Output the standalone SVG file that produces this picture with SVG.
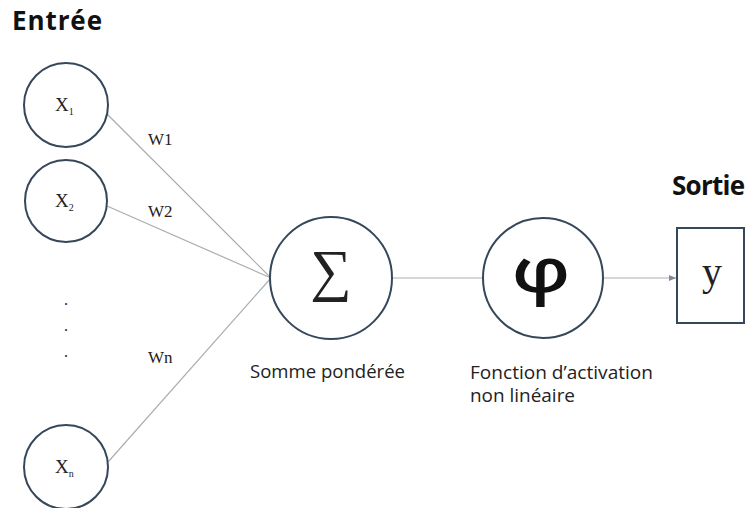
<svg xmlns="http://www.w3.org/2000/svg" width="747" height="508" viewBox="0 0 747 508">
<defs>
<style>
.node{fill:#fff;stroke:#36475a;stroke-width:2}
.conn{stroke:#a9adb2;stroke-width:1.2;fill:none}
.title{font-family:"Open Sans","Liberation Sans",sans-serif;font-weight:bold;font-size:26px;fill:#111}
.cap{font-family:"Open Sans","Liberation Sans",sans-serif;font-size:18px;fill:#222}
.ser{font-family:"Liberation Serif","DejaVu Serif",serif;fill:#222}
</style>
<marker id="ah" markerWidth="8" markerHeight="8" refX="7" refY="4" orient="auto" markerUnits="userSpaceOnUse">
<path d="M0,1 L7,4 L0,7 z" fill="#7d8a98"/>
</marker>
</defs>
<rect width="747" height="508" fill="#fff"/>
<text class="title" x="12" y="30" textLength="90">Entrée</text>
<text class="title" x="672" y="195" textLength="73">Sortie</text>
<g id="connectors">
<line class="conn" x1="106" y1="113" x2="271" y2="278"/>
<line class="conn" x1="107" y1="206" x2="271" y2="278"/>
<line class="conn" x1="108" y1="462" x2="271" y2="278"/>
<line class="conn" x1="392" y1="278" x2="482" y2="278"/>
<line class="conn" x1="604" y1="278" x2="676" y2="278" stroke="#7d8a98" marker-end="url(#ah)"/>
</g>
<g id="labels">
<text class="ser" x="148" y="145" font-size="17">W1</text>
<text class="ser" x="148" y="217" font-size="17">W2</text>
<text class="ser" x="148" y="363" font-size="17">Wn</text>
<text class="ser" x="64" y="305" font-size="16">.</text>
<text class="ser" x="64" y="331" font-size="16">.</text>
<text class="ser" x="64" y="357" font-size="16">.</text>
</g>
<g id="x1">
<circle class="node" cx="66" cy="105" r="42"/>
<text class="ser" x="55" y="111" font-size="19">X<tspan font-size="10" dy="4">1</tspan></text>
</g>
<g id="x2">
<circle class="node" cx="66" cy="201" r="41"/>
<text class="ser" x="55" y="207" font-size="19">X<tspan font-size="10" dy="4">2</tspan></text>
</g>
<g id="xn">
<circle class="node" cx="66" cy="467" r="42"/>
<text class="ser" x="55" y="473" font-size="19">X<tspan font-size="10" dy="4">n</tspan></text>
</g>
<g id="sum">
<circle class="node" cx="331" cy="278" r="61"/>
<text class="ser" x="331" y="290" font-size="58" text-anchor="middle">∑</text>
<text class="cap" x="250" y="378" textLength="155" lengthAdjust="spacingAndGlyphs">Somme pondérée</text>
</g>
<g id="phi">
<circle class="node" cx="543" cy="278" r="60"/>
<text transform="translate(541,292) scale(1.25,1)" x="0" y="0" font-family="'Open Sans','DejaVu Sans',sans-serif" font-weight="600" font-size="62" text-anchor="middle" fill="#111">φ</text>
<text class="cap" x="470" y="379" textLength="183" lengthAdjust="spacingAndGlyphs">Fonction d’activation</text>
<text class="cap" x="470" y="402" textLength="105" lengthAdjust="spacingAndGlyphs">non linéaire</text>
</g>
<g id="y">
<rect class="node" x="677" y="228" width="67" height="95"/>
<text class="ser" x="712" y="285" font-size="40" text-anchor="middle">y</text>
</g>
</svg>
